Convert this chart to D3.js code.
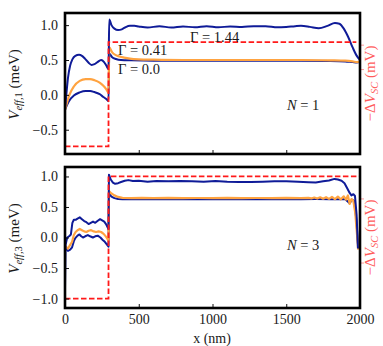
<!DOCTYPE html>
<html>
<head>
<meta charset="utf-8">
<script src="https://cdn.jsdelivr.net/npm/d3@7"></script>
<style>
body { margin: 0; background: #fff; }
svg text { font-family: "Liberation Serif", "DejaVu Serif", serif; fill: #1a1a1a; }
</style>
</head>
<body>
<div id="chart"></div>
<script>
// N = 1 panel : [x (nm), V_eff (meV)]
var n1Gamma144 = [[0,-0.2],[8,-0.02],[20,0.24],[35,0.42],[50,0.51],[70,0.56],[95,0.575],[115,0.56],[135,0.52],[160,0.46],
  [180,0.43],[200,0.44],[220,0.47],[245,0.5],[265,0.47],[280,0.42],[295,0.37],[300,1.08],[315,1.0],[335,0.95],
  [360,0.93],[385,0.94],[410,0.97],[440,0.99],[470,0.99],[500,0.98],[560,0.965],[640,0.985],[720,0.965],[800,0.98],
  [880,0.97],[960,0.985],[1040,0.97],[1120,0.98],[1200,0.975],[1280,0.985],[1360,0.985],[1440,0.97],[1500,0.975],
  [1560,0.985],[1600,0.99],[1660,0.975],[1720,0.955],[1780,0.99],[1830,1.03],[1860,1.02],[1890,0.95],[1920,0.83],
  [1950,0.68],[1975,0.57],[2000,0.5]];
var n1Gamma041 = [[0,-0.215],[15,-0.1],[30,0.0],[60,0.12],[100,0.2],[140,0.225],[170,0.225],[200,0.21],[235,0.175],
  [260,0.13],[280,0.08],[295,0.03],[300,0.68],[320,0.61],[345,0.57],[370,0.55],[400,0.535],[440,0.52],[500,0.51],
  [600,0.505],[800,0.5],[1000,0.5],[1200,0.5],[1400,0.5],[1600,0.5],[1800,0.495],[1900,0.49],[1950,0.48],[1980,0.47],[2000,0.48]];
var n1Gamma0 = [[0,-0.215],[15,-0.14],[30,-0.08],[60,-0.01],[100,0.035],[140,0.055],[170,0.055],[200,0.04],[235,0.01],
  [260,-0.03],[280,-0.06],[295,-0.09],[300,0.59],[320,0.54],[345,0.515],[380,0.5],[450,0.495],[600,0.49],[800,0.49],
  [1000,0.49],[1200,0.49],[1400,0.49],[1600,0.49],[1800,0.487],[1900,0.48],[1950,0.47],[1980,0.465],[2000,0.47]];
var n1Vsc = [[0,-0.74],[295,-0.74],[295,0.757],[1975,0.757]];

// N = 3 panel
var n3Gamma144 = [[0,-0.82],[4,-0.12],[15,0.0],[28,0.02],[40,0.05],[50,0.24],[60,0.29],[72,0.29],[85,0.31],[100,0.33],
  [115,0.3],[130,0.27],[145,0.25],[160,0.22],[175,0.24],[190,0.26],[205,0.24],[220,0.27],[238,0.3],[252,0.28],
  [266,0.26],[278,0.22],[288,0.17],[295,0.14],[298,1.03],[310,0.95],[325,0.9],[340,0.88],[360,0.89],[380,0.91],
  [405,0.93],[430,0.94],[460,0.925],[500,0.93],[560,0.915],[620,0.925],[700,0.92],[780,0.925],[860,0.92],[940,0.915],
  [1020,0.925],[1100,0.915],[1180,0.91],[1260,0.91],[1340,0.915],[1420,0.92],[1500,0.92],[1580,0.915],[1650,0.905],
  [1700,0.9],[1750,0.92],[1790,0.935],[1827,0.96],[1850,0.95],[1875,0.93],[1895,0.89],[1915,0.8],[1930,0.73],
  [1942,0.69],[1955,0.71],[1966,0.68],[1977,0.37],[1986,-0.18]];
var n3Gamma041 = [[0,-0.14],[8,-0.16],[20,-0.18],[35,-0.12],[48,-0.07],[60,0.04],[72,0.09],[85,0.12],[100,0.14],
  [115,0.12],[130,0.1],[145,0.09],[160,0.11],[177,0.12],[195,0.1],[211,0.09],[228,0.1],[245,0.09],[262,0.06],
  [279,0.01],[295,-0.05],[298,0.76],[315,0.72],[335,0.69],[360,0.665],[390,0.65],[450,0.645],[520,0.648],[600,0.645],
  [700,0.648],[800,0.645],[900,0.647],[1000,0.645],[1100,0.648],[1200,0.645],[1300,0.647],[1400,0.645],[1500,0.648],
  [1600,0.645],[1650,0.65],[1670,0.64],[1690,0.655],[1710,0.638],[1730,0.658],[1750,0.635],[1770,0.66],[1790,0.633],
  [1810,0.665],[1830,0.63],[1850,0.67],[1870,0.625],[1890,0.675],[1905,0.62],[1918,0.69],[1930,0.55],[1942,0.63],
  [1955,0.6],[1968,0.4],[1988,-0.2]];
var n3Gamma0 = [[0,-0.15],[8,-0.19],[20,-0.22],[35,-0.2],[48,-0.16],[60,-0.06],[70,-0.01],[85,0.03],[98,0.05],
  [110,0.02],[122,0.0],[137,0.02],[155,0.04],[170,0.02],[189,0.0],[205,0.02],[222,0.03],[240,0.0],[256,-0.04],
  [270,-0.07],[286,-0.12],[295,-0.15],[298,0.72],[315,0.67],[335,0.645],[360,0.63],[390,0.625],[450,0.628],[520,0.632],
  [600,0.628],[700,0.632],[800,0.628],[900,0.631],[1000,0.628],[1100,0.632],[1200,0.628],[1300,0.631],[1400,0.628],
  [1500,0.632],[1600,0.628],[1700,0.63],[1800,0.628],[1900,0.625],[1930,0.56],[1945,0.62],[1960,0.6],[1975,0.3],[1988,-0.17]];
var n3Vsc = [[0,-1.0],[295,-1.0],[295,1.0],[2000,1.0]];

var xTicks = [0, 500, 1000, 1500, 2000];
var yTicksTop = [-0.5, 0.0, 0.5, 1.0];
var yTicksBot = [-1.0, -0.5, 0.0, 0.5, 1.0];
var vscTicksTop = [0.37, 0.72];
var vscTicksBot = [-0.41, 0.64];

var blue = "#0f1b98", orange = "#ffa340", red = "#ff1a1a", redLabel = "#ff5c5c";

var svg = d3.select("#chart").append("svg")
    .attr("width", 383)
    .attr("height", 346);

var x = d3.scaleLinear().domain([0, 2000]).range([65, 360]);

var panels = [
  {y: d3.scaleLinear().domain([-0.848, 1.174]).range([154, 13]), top: 13, bottom: 154,
   series: [n1Gamma0, n1Gamma041, n1Gamma144], vsc: n1Vsc, ticks: yTicksTop, vscTicks: vscTicksTop,
   curve: d3.curveMonotoneX, sub: "eff,1", n: "1", nY: 110, showX: false},
  {y: d3.scaleLinear().domain([-1.155, 1.155]).range([308, 167]), top: 167, bottom: 308,
   series: [n3Gamma0, n3Gamma041, n3Gamma144], vsc: n3Vsc, ticks: yTicksBot, vscTicks: vscTicksBot,
   curve: d3.curveLinear, sub: "eff,3", n: "3", nY: 250, showX: true}
];

var colors = [blue, orange, blue];

panels.forEach(function(p){
  var g = svg.append("g");
  var line = d3.line()
      .x(function(d){ return x(d[0]); })
      .y(function(d){ return p.y(d[1]); })
      .curve(p.curve);

  p.series.forEach(function(s, i){
    g.append("path")
      .attr("d", line(s))
      .attr("fill", "none")
      .attr("stroke", colors[i])
      .attr("stroke-width", i == 1 ? 2.2 : 2)
      .attr("stroke-linejoin", "round");
  });

  g.append("path")
    .attr("d", d3.line().x(function(d){ return x(d[0]); }).y(function(d){ return p.y(d[1]); })(p.vsc))
    .attr("fill", "none")
    .attr("stroke", red)
    .attr("stroke-width", 1.8)
    .attr("stroke-dasharray", "5.5,2.5");

  // left axis, ticks pointing in
  var ya = g.append("g")
    .attr("transform", "translate(65,0)")
    .call(d3.axisLeft(p.y).tickValues(p.ticks).tickFormat(d3.format(".1f")).tickSize(-4).tickPadding(7));
  ya.select(".domain").remove();
  ya.selectAll("line").attr("stroke", "#111");
  ya.selectAll("text").attr("font-size", 14);

  // right axis for -dV_SC
  var ra = g.append("g")
    .attr("transform", "translate(360,0)")
    .call(d3.axisRight(p.y).tickValues(p.vscTicks).tickFormat("").tickSize(4));
  ra.select(".domain").remove();
  ra.selectAll("line").attr("stroke", redLabel).attr("stroke-opacity", 0.6);

  var xa = g.append("g")
    .attr("transform", "translate(0," + p.bottom + ")")
    .call(d3.axisBottom(x).tickValues(xTicks).tickSize(-4).tickPadding(6)
      .tickFormat(p.showX ? d3.format("d") : ""));
  xa.select(".domain").remove();
  xa.selectAll("line").attr("stroke", "#111");
  xa.selectAll("text").attr("font-size", 14);

  g.append("rect")
    .attr("x", 65).attr("y", p.top)
    .attr("width", 295).attr("height", p.bottom - p.top)
    .attr("fill", "none")
    .attr("stroke", "#000")
    .attr("stroke-width", 2.6);

  var cy = (p.top + p.bottom) / 2;
  var lab = g.append("text")
    .attr("transform", "translate(19," + (cy + 1) + ") rotate(-90)")
    .attr("text-anchor", "middle")
    .attr("font-size", 15);
  lab.append("tspan").attr("font-style", "italic").text("V");
  lab.append("tspan").attr("font-style", "italic").attr("font-size", 10.5).attr("dy", 3).text("eff,");
  lab.append("tspan").attr("font-size", 10.5).text(p.sub.slice(4));
  lab.append("tspan").attr("dy", -3).text(" (meV)");

  var rl = g.append("text")
    .attr("transform", "translate(375," + cy + ") rotate(-90)")
    .attr("text-anchor", "middle")
    .attr("font-size", 15)
    .style("fill", redLabel);
  rl.append("tspan").text("\u2212\u0394");
  rl.append("tspan").attr("font-style", "italic").text("V");
  rl.append("tspan").attr("font-style", "italic").attr("font-size", 10.5).attr("dy", 3).text("SC");
  rl.append("tspan").attr("dy", -3).text(" (mV)");

  var nt = g.append("text")
    .attr("x", 287).attr("y", p.nY)
    .attr("font-size", 14.5);
  nt.append("tspan").attr("font-style", "italic").text("N");
  nt.append("tspan").text(" = " + p.n);
});

var gammaLabels = [["\u0393 = 1.44", 190, 42], ["\u0393 = 0.41", 118, 55], ["\u0393 = 0.0", 118, 74]];
svg.selectAll(".gl").data(gammaLabels).enter().append("text")
  .attr("class", "gl")
  .attr("x", function(d){ return d[1]; })
  .attr("y", function(d){ return d[2]; })
  .attr("font-size", 14.5)
  .text(function(d){ return d[0]; });

svg.append("text")
  .attr("x", 212).attr("y", 343)
  .attr("text-anchor", "middle")
  .attr("font-size", 14)
  .text("x (nm)");
</script>
</body>
</html>
